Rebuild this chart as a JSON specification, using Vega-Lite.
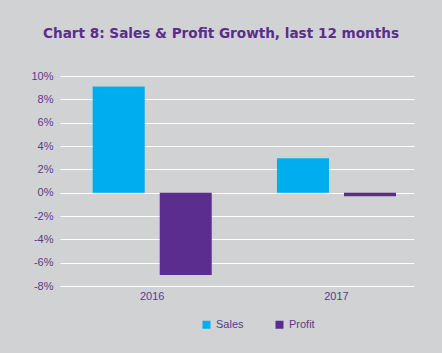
{
  "$schema": "https://vega.github.io/schema/vega-lite/v6.json",
  "width": 354,
  "height": 210,
  "autosize": "none",
  "padding": {"left": 60, "top": 76, "right": 28, "bottom": 67},
  "background": "#D1D2D4",
  "title": {
    "text": "Chart 8: Sales & Profit Growth, last 12 months",
    "font": "DejaVu Sans",
    "fontSize": 13.6,
    "fontWeight": "bold",
    "color": "#5B2D8E",
    "anchor": "middle",
    "dx": -16,
    "offset": 29
  },
  "data": {
    "values": [
      {"year": "2016", "series": "Sales", "value": 9.1},
      {"year": "2016", "series": "Profit", "value": -7.05},
      {"year": "2017", "series": "Sales", "value": 2.95},
      {"year": "2017", "series": "Profit", "value": -0.3}
    ]
  },
  "config": {
    "view": {"stroke": null},
    "font": "Liberation Sans"
  },
  "mark": {"type": "bar"},
  "encoding": {
    "x": {
      "field": "year",
      "type": "nominal",
      "scale": {"paddingInner": 0.354, "paddingOuter": 0.1375, "align": 0.645},
      "axis": {
        "title": null,
        "labelAngle": 0,
        "domain": false,
        "ticks": false,
        "labelColor": "#5B3A8C",
        "labelFontSize": 11,
        "labelPadding": 4
      }
    },
    "xOffset": {
      "field": "series",
      "type": "nominal",
      "sort": ["Sales", "Profit"],
      "scale": {"paddingInner": 0.224, "paddingOuter": 0}
    },
    "y": {
      "field": "value",
      "type": "quantitative",
      "scale": {"domain": [-8, 10], "nice": false},
      "axis": {
        "title": null,
        "values": [-8, -6, -4, -2, 0, 2, 4, 6, 8, 10],
        "labelExpr": "datum.value + '%'",
        "grid": true,
        "gridColor": "#FFFFFF",
        "gridWidth": 1,
        "gridOpacity": 1,
        "domain": false,
        "ticks": false,
        "labelColor": "#5B3A8C",
        "labelFontSize": 11,
        "labelPadding": 7
      }
    },
    "color": {
      "field": "series",
      "type": "nominal",
      "sort": ["Sales", "Profit"],
      "scale": {"domain": ["Sales", "Profit"], "range": ["#00AEEF", "#5B2D8E"]},
      "legend": {
        "title": null,
        "orient": "none",
        "legendX": 141,
        "legendY": 243,
        "direction": "horizontal",
        "symbolType": "square",
        "symbolSize": 64,
        "symbolStrokeWidth": 0,
        "labelColor": "#5B3A8C",
        "labelFontSize": 11,
        "labelOffset": 4,
        "columnPadding": 30,
        "padding": 0
      }
    }
  }
}
